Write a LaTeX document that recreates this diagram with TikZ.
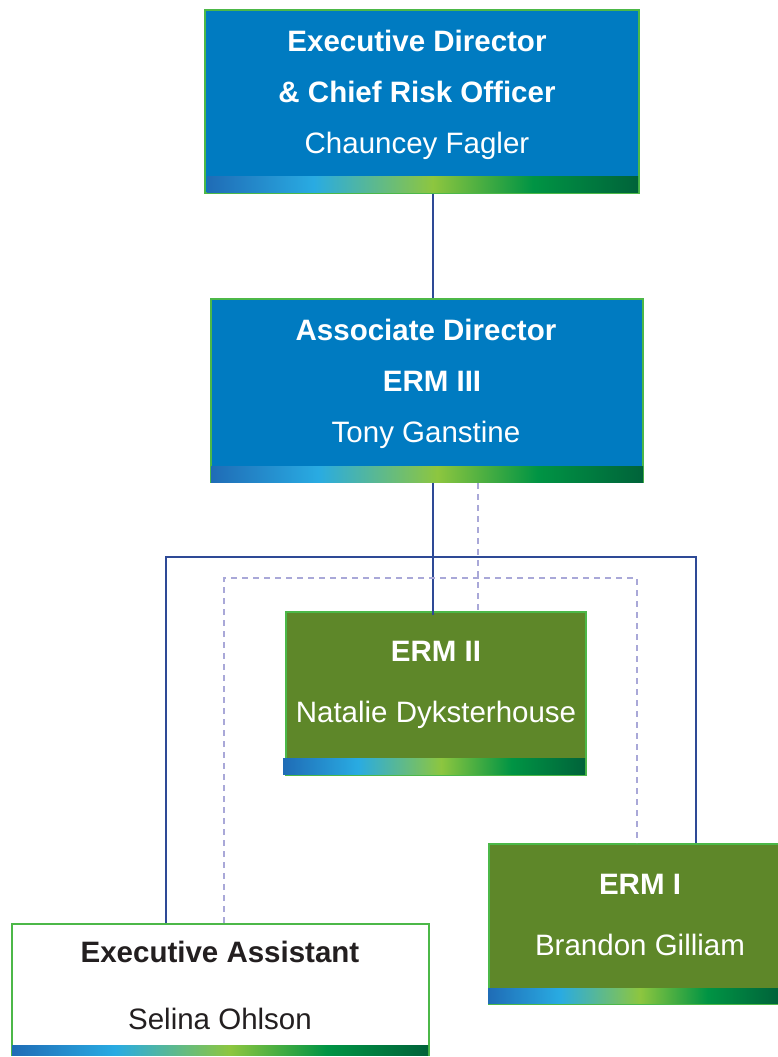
\documentclass[tikz,border=0pt]{standalone}
\usepackage{fontspec}
\setmainfont{Liberation Sans}
\definecolor{boxblue}{HTML}{007BC1}
\definecolor{boxgreen}{HTML}{5E8729}
\definecolor{rimgreen}{HTML}{4CB848}
\definecolor{linkblue}{HTML}{2E4A96}
\definecolor{linkdash}{HTML}{A9A8D8}
\definecolor{darktext}{HTML}{231F20}
\definecolor{gA}{HTML}{1F6CB6}
\definecolor{gB}{HTML}{29ABE2}
\definecolor{gC}{HTML}{8DC63F}
\definecolor{gD}{HTML}{009444}
\definecolor{gE}{HTML}{00633A}
\pgfdeclarehorizontalshading{barshade}{100bp}{color(0bp)=(gA); color(25bp)=(gA); color(37.4bp)=(gB); color(51.2bp)=(gC); color(62.8bp)=(gD); color(75bp)=(gE); color(100bp)=(gE)}
\tikzset{
  orgbox/.style={rectangle, draw=rimgreen, line width=2pt, anchor=north west, inner sep=0pt},
  bluebox/.style={orgbox, fill=boxblue},
  greenbox/.style={orgbox, fill=boxgreen},
  whitebox/.style={orgbox, fill=white},
  bar/.style={shading=barshade},
  txt/.style={align=center, text=white, inner sep=0pt},
  conn/.style={draw=linkblue, line width=2.2pt},
  dotconn/.style={draw=linkdash, line width=2pt, dash pattern=on 6pt off 5pt}
}
\begin{document}
\begin{tikzpicture}[x=1pt,y=-1pt]
\useasboundingbox (0,0) rectangle (778,1057);

% boxes
\node[bluebox, minimum width=434, minimum height=183] (ed) at (204,9) {};
\shade[bar] (207,176) rectangle (638,192);
\node[bluebox, minimum width=432, minimum height=183] (ad) at (210,298) {};
\shade[bar] (211,466) rectangle (643,482);
\node[greenbox, minimum width=300, minimum height=163] (erm2) at (285,611) {};
\shade[bar] (283,758) rectangle (585,774);
\node[greenbox, minimum width=296, minimum height=160] (erm1) at (488,843) {};
\shade[bar] (488,988) rectangle (778,1003);
\node[whitebox, minimum width=417, minimum height=131] (ea) at (11,923) {};
\shade[bar] (12,1045) rectangle (428,1055);

% texts
\node[txt, font={\fontsize{29.5}{51}\selectfont}] (edT) at (417,95)
  {\textbf{Executive Director}\\\textbf{\& Chief Risk Officer}\\Chauncey Fagler};
\node[txt, font={\fontsize{29.5}{51}\selectfont}] (adT) at (426,384.3)
  {\textbf{Associate Director}\\\hspace*{12pt}\textbf{ERM III}\\Tony Ganstine};
\node[txt, font={\fontsize{29.5}{61}\selectfont}] (erm2T) at (436,685)
  {\textbf{ERM II}\\Natalie Dyksterhouse};
\node[txt, font={\fontsize{29.5}{61}\selectfont}] (erm1T) at (640,914.8)
  {\textbf{ERM I}\\Brandon Gilliam};
\node[txt, text=darktext, font={\fontsize{29.5}{67}\selectfont}] (eaT) at (220,985.5)
  {\textbf{Executive Assistant}\\Selina Ohlson};

% connector helper points
\coordinate (mainx) at (433,557);
\coordinate (hl) at (166,557);
\coordinate (hr) at (696,557);
\coordinate (dv) at (478,578);
\coordinate (dl) at (224,578);
\coordinate (dr) at (637,578);

% solid connectors
\draw[conn] (ed.south -| mainx) -- (ad.north -| mainx);
\draw[conn] (ad.south -| mainx) -- ([yshift=-4pt]erm2.north -| mainx);
\draw[conn] (ea.north -| hl) -- (hl) -- (hr) -- (erm1.north -| hr);

% dashed connectors
\draw[dotconn] (ad.south -| dv) -- (erm2.north -| dv);
\draw[dotconn] (ea.north -| dl) -- (dl) -- (dr) -- (erm1.north -| dr);
\end{tikzpicture}
\end{document}
